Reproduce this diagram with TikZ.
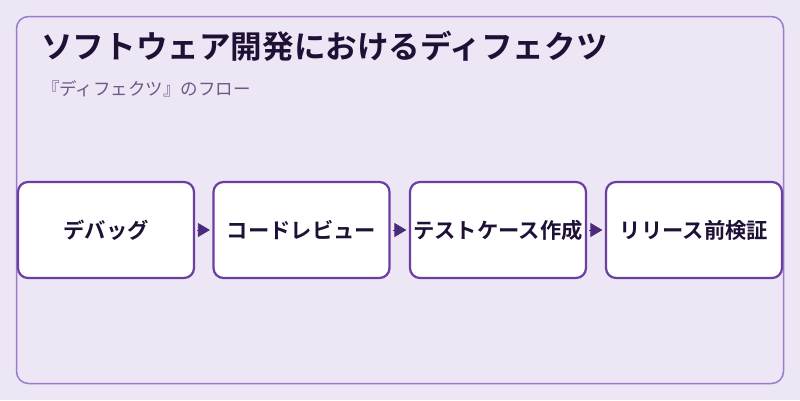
\documentclass[tikz,border=0pt]{standalone}
\usepackage{fontspec}
\setmainfont{Noto Sans CJK JP}
\newfontfamily\jpb{Noto Sans CJK JP Bold}
\usetikzlibrary{arrows.meta}
\definecolor{bgc}{HTML}{EDE6F5}
\definecolor{framec}{HTML}{9C7ACB}
\definecolor{boxc}{HTML}{6B3FA0}
\definecolor{txtc}{HTML}{1F1035}
\definecolor{subc}{HTML}{6A5A88}
\definecolor{arrc}{HTML}{4A2A7A}
\tikzset{
  stepbox/.style={draw=boxc, line width=2.2pt, fill=white, rounded corners=10pt,
    minimum width=176pt, minimum height=96pt, inner sep=0pt,
    font=\jpb\fontsize{21.3}{24}\selectfont, text=txtc},
  flow/.style={draw=arrc, line width=0.8pt, -{Triangle[length=12pt,width=14pt]}, arrc, shorten >=2.5pt, shorten <=2pt}
}
\begin{document}
\begin{tikzpicture}[x=1pt,y=-1pt]
\useasboundingbox (0,0) rectangle (800,400);
\fill[bgc] (0,0) rectangle (800,400);
\draw[framec, line width=1.5pt, rounded corners=12pt] (16.5,16.5) rectangle (783.5,383.5);
\node[anchor=base west, inner sep=0pt, text=txtc, font=\jpb\fontsize{31.6}{36}\selectfont] (title) at (41,58) {ソフトウェア開発におけるディフェクツ};
\node[anchor=base west, inner sep=0pt, text=subc, font=\fontsize{17.5}{20}\selectfont] (sub) at (42,95) {『ディフェクツ』のフロー};
\node[stepbox] (b1) at (106,230) {デバッグ};
\node[stepbox] (b2) at (301.5,230) {コードレビュー};
\node[stepbox] (b3) at (498,230) {テストケース作成};
\node[stepbox] (b4) at (694,230) {リリース前検証};
\draw[flow] (b1) -- (b2);
\draw[flow] (b2) -- (b3);
\draw[flow] (b3) -- (b4);
\end{tikzpicture}
\end{document}
